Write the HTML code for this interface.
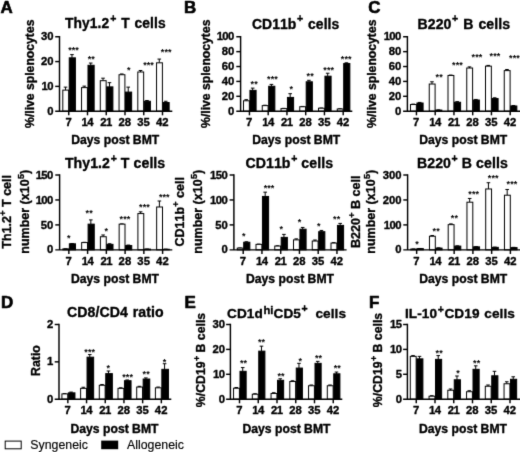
<!DOCTYPE html>
<html><head><meta charset="utf-8"><title>Figure</title>
<style>
html,body{margin:0;padding:0;background:#fff;}
body{width:520px;height:452px;overflow:hidden;}
svg{display:block;font-family:"Liberation Sans",sans-serif;font-kerning:none;}
#g{filter:url(#soft);}
text{fill:#000;}
.tk,.ti,.dl,.yl,.pl{stroke:#000;stroke-width:0.35px;stroke-linejoin:round;}
.lg{stroke:#000;stroke-width:0.15px;}
.pl{stroke-width:0.6px;}
.tk{font-size:11.3px;font-weight:bold;}
.n1{letter-spacing:-0.55px;}
.ti{font-size:13.6px;font-weight:bold;letter-spacing:0.08px;word-spacing:0.9px;}
.sup{font-size:10.5px;}
.sups{font-size:9px;}
.suph{font-size:11.2px;}
.supp{font-size:9px;}
.dl{font-size:12.2px;font-weight:bold;}
.yl{font-weight:bold;}
.st{font-size:9px;font-weight:bold;letter-spacing:0.1px;}
.pl{font-size:16px;font-weight:bold;}
.lg{font-size:12.35px;}
.axl{stroke:#000;stroke-width:1.45;fill:none;}
.eb{stroke:#000;stroke-width:1;fill:none;}
.bar{stroke:#000;stroke-width:1;}
</style></head>
<body>
<svg width="520" height="452" viewBox="0 0 520 452">
<defs><filter id="soft" x="-2%" y="-2%" width="104%" height="104%" color-interpolation-filters="sRGB"><feConvolveMatrix order="3" kernelMatrix="0.0113 0.084 0.0113 0.084 0.6188 0.084 0.0113 0.084 0.0113" divisor="1" edgeMode="duplicate" preserveAlpha="true"/></filter></defs>
<rect width="520" height="452" fill="#fff"/>
<g id="g">
<rect x="-10" y="-10" width="540" height="472" fill="#fff"/>
<path class="eb" d="M65.52 90.11V87.13M63.72 87.13H67.32"/>
<rect class="bar" x="62.8" y="90.11" width="5.85" height="21.09" fill="#fff"/>
<path class="eb" d="M71.97 57.84V54.62M70.17 54.62H73.77"/>
<rect class="bar" x="69.25" y="57.84" width="6.15" height="53.36" fill="#000"/>
<path class="eb" d="M84.27 87.62V86.14M82.47 86.14H86.07"/>
<rect class="bar" x="81.55" y="87.62" width="5.85" height="23.58" fill="#fff"/>
<path class="eb" d="M90.72 65.29V63.06M88.92 63.06H92.52"/>
<rect class="bar" x="88" y="65.29" width="6.15" height="45.91" fill="#000"/>
<path class="eb" d="M103.02 80.68V78.19M101.22 78.19H104.82"/>
<rect class="bar" x="100.3" y="80.68" width="5.85" height="30.52" fill="#fff"/>
<path class="eb" d="M109.47 86.88V82.66M107.67 82.66H111.27"/>
<rect class="bar" x="106.75" y="86.88" width="6.15" height="24.32" fill="#000"/>
<path class="eb" d="M121.77 74.72V73.98M119.97 73.98H123.57"/>
<rect class="bar" x="119.05" y="74.72" width="5.85" height="36.48" fill="#fff"/>
<path class="eb" d="M128.22 92.09V87.13M126.42 87.13H130.03"/>
<rect class="bar" x="125.5" y="92.09" width="6.15" height="19.11" fill="#000"/>
<path class="eb" d="M140.53 71.99V70.5M138.72 70.5H142.33"/>
<rect class="bar" x="137.8" y="71.99" width="5.85" height="39.21" fill="#fff"/>
<path class="eb" d="M146.97 101.27V100.53M145.17 100.53H148.78"/>
<rect class="bar" x="144.25" y="101.27" width="6.15" height="9.93" fill="#000"/>
<path class="eb" d="M159.28 62.81V59.08M157.47 59.08H161.08"/>
<rect class="bar" x="156.55" y="62.81" width="5.85" height="48.39" fill="#fff"/>
<path class="eb" d="M165.72 102.51V101.27M163.92 101.27H167.53"/>
<rect class="bar" x="163" y="102.51" width="6.15" height="8.69" fill="#000"/>
<path class="axl" d="M59.5 36.05V111.2M55.2 111.2H172.3"/>
<text class="tk" text-anchor="end" x="53.6" y="114.8">0</text>
<path class="axl" d="M55.2 86.38H59.5"/>
<text class="tk n1" text-anchor="end" x="53.05" y="89.98">10</text>
<path class="axl" d="M55.2 61.57H59.5"/>
<text class="tk" text-anchor="end" x="53.6" y="65.17">20</text>
<path class="axl" d="M55.2 36.75H59.5"/>
<text class="tk" text-anchor="end" x="53.6" y="40.35">30</text>
<path class="axl" d="M68.75 111.2V115.3"/>
<text class="tk" text-anchor="middle" x="68.55" y="126.3">7</text>
<path class="axl" d="M87.5 111.2V115.3"/>
<text class="tk n1" text-anchor="middle" x="87.3" y="126.3">14</text>
<path class="axl" d="M106.25 111.2V115.3"/>
<text class="tk n1" text-anchor="middle" x="106.05" y="126.3">21</text>
<path class="axl" d="M125 111.2V115.3"/>
<text class="tk" text-anchor="middle" x="124.8" y="126.3">28</text>
<path class="axl" d="M143.75 111.2V115.3"/>
<text class="tk" text-anchor="middle" x="143.55" y="126.3">35</text>
<path class="axl" d="M162.5 111.2V115.3"/>
<text class="tk" text-anchor="middle" x="162.3" y="126.3">42</text>
<text class="ti" style="font-size:13.8px;word-spacing:0.9px" x="65" y="28.4">Thy1.2<tspan class="sup" dx="1.0" dy="-6.3">+</tspan><tspan dy="6.3"> T cells</tspan></text>
<text class="dl" text-anchor="middle" x="115.25" y="144.1">Days post BMT</text>
<text class="yl" style="font-size:12.2px" text-anchor="middle" transform="translate(33.8 73.75) rotate(-90)">%/live splenocytes</text>
<text class="st" text-anchor="middle" x="73.55" y="53.05">***</text>
<text class="st" text-anchor="middle" x="91.25" y="61.8">**</text>
<text class="st" text-anchor="middle" x="128.85" y="73.3">*</text>
<text class="st" text-anchor="middle" x="148.55" y="68.05">***</text>
<text class="st" text-anchor="middle" x="166.25" y="55.3">***</text>
<path class="eb" d="M246.22 100.78V99.66M244.42 99.66H248.03"/>
<rect class="bar" x="243.5" y="100.78" width="5.85" height="10.42" fill="#fff"/>
<path class="eb" d="M252.67 90.35V88.12M250.87 88.12H254.47"/>
<rect class="bar" x="249.95" y="90.35" width="6.15" height="20.85" fill="#000"/>
<path class="eb" d="M264.98 105.62V105.24M263.18 105.24H266.78"/>
<rect class="bar" x="262.25" y="105.62" width="5.85" height="5.58" fill="#fff"/>
<path class="eb" d="M271.43 86.26V84.4M269.62 84.4H273.23"/>
<rect class="bar" x="268.7" y="86.26" width="6.15" height="24.94" fill="#000"/>
<path class="eb" d="M283.73 108.59V108.37M281.93 108.37H285.53"/>
<rect class="bar" x="281" y="108.59" width="5.85" height="2.61" fill="#fff"/>
<path class="eb" d="M290.18 97.43V93.7M288.38 93.7H291.98"/>
<rect class="bar" x="287.45" y="97.43" width="6.15" height="13.77" fill="#000"/>
<path class="eb" d="M302.48 106.73V106.44M300.68 106.44H304.28"/>
<rect class="bar" x="299.75" y="106.73" width="5.85" height="4.47" fill="#fff"/>
<path class="eb" d="M308.93 81.79V80.3M307.12 80.3H310.73"/>
<rect class="bar" x="306.2" y="81.79" width="6.15" height="29.41" fill="#000"/>
<path class="eb" d="M321.23 108.22V108M319.43 108H323.03"/>
<rect class="bar" x="318.5" y="108.22" width="5.85" height="2.98" fill="#fff"/>
<path class="eb" d="M327.68 76.21V73.23M325.88 73.23H329.48"/>
<rect class="bar" x="324.95" y="76.21" width="6.15" height="34.99" fill="#000"/>
<path class="eb" d="M339.98 108.97V108.74M338.18 108.74H341.78"/>
<rect class="bar" x="337.25" y="108.97" width="5.85" height="2.23" fill="#fff"/>
<path class="eb" d="M346.43 63.55V62.81M344.62 62.81H348.23"/>
<rect class="bar" x="343.7" y="63.55" width="6.15" height="47.65" fill="#000"/>
<path class="axl" d="M240.6 36.05V111.2M236.3 111.2H352.3"/>
<text class="tk" text-anchor="end" x="234.4" y="114.8">0</text>
<path class="axl" d="M236.3 96.31H240.6"/>
<text class="tk" text-anchor="end" x="234.4" y="99.91">20</text>
<path class="axl" d="M236.3 81.42H240.6"/>
<text class="tk" text-anchor="end" x="234.4" y="85.02">40</text>
<path class="axl" d="M236.3 66.53H240.6"/>
<text class="tk" text-anchor="end" x="234.4" y="70.13">60</text>
<path class="axl" d="M236.3 51.64H240.6"/>
<text class="tk" text-anchor="end" x="234.4" y="55.24">80</text>
<path class="axl" d="M236.3 36.75H240.6"/>
<text class="tk n1" text-anchor="end" x="233.85" y="40.35">100</text>
<path class="axl" d="M249.45 111.2V115.3"/>
<text class="tk" text-anchor="middle" x="249.25" y="126.3">7</text>
<path class="axl" d="M268.2 111.2V115.3"/>
<text class="tk n1" text-anchor="middle" x="268" y="126.3">14</text>
<path class="axl" d="M286.95 111.2V115.3"/>
<text class="tk n1" text-anchor="middle" x="286.75" y="126.3">21</text>
<path class="axl" d="M305.7 111.2V115.3"/>
<text class="tk" text-anchor="middle" x="305.5" y="126.3">28</text>
<path class="axl" d="M324.45 111.2V115.3"/>
<text class="tk" text-anchor="middle" x="324.25" y="126.3">35</text>
<path class="axl" d="M343.2 111.2V115.3"/>
<text class="tk" text-anchor="middle" x="343" y="126.3">42</text>
<text class="ti" style="font-size:13.9px;word-spacing:0.9px" x="252" y="28.6">CD11b<tspan class="sup" dx="0.6" dy="-6.3">+</tspan><tspan dy="6.3"> cells</tspan></text>
<text class="dl" text-anchor="middle" x="296.25" y="144.1">Days post BMT</text>
<text class="yl" style="font-size:12.2px" text-anchor="middle" transform="translate(209.6 73.75) rotate(-90)">%/live splenocytes</text>
<text class="st" text-anchor="middle" x="254.2" y="87">**</text>
<text class="st" text-anchor="middle" x="272.45" y="81.5">***</text>
<text class="st" text-anchor="middle" x="291.2" y="92">*</text>
<text class="st" text-anchor="middle" x="310.2" y="79">**</text>
<text class="st" text-anchor="middle" x="328.7" y="72.75">***</text>
<text class="st" text-anchor="middle" x="346.2" y="62.25">***</text>
<path class="eb" d="M413.23 104.5V104.13M411.43 104.13H415.03"/>
<rect class="bar" x="410.5" y="104.5" width="5.85" height="6.7" fill="#fff"/>
<path class="eb" d="M419.68 103.01V102.41M417.88 102.41H421.48"/>
<rect class="bar" x="416.95" y="103.01" width="6.15" height="8.19" fill="#000"/>
<path class="eb" d="M431.98 84.03V81.79M430.18 81.79H433.78"/>
<rect class="bar" x="429.25" y="84.03" width="5.85" height="27.17" fill="#fff"/>
<path class="eb" d="M438.43 110.08V109.86M436.62 109.86H440.23"/>
<rect class="bar" x="435.7" y="110.08" width="6.15" height="1.12" fill="#000"/>
<path class="eb" d="M450.73 75.46V75.09M448.93 75.09H452.53"/>
<rect class="bar" x="448" y="75.46" width="5.85" height="35.74" fill="#fff"/>
<path class="eb" d="M457.18 102.27V101.67M455.38 101.67H458.98"/>
<rect class="bar" x="454.45" y="102.27" width="6.15" height="8.93" fill="#000"/>
<path class="eb" d="M469.48 68.02V66.9M467.68 66.9H471.28"/>
<rect class="bar" x="466.75" y="68.02" width="5.85" height="43.18" fill="#fff"/>
<path class="eb" d="M475.93 100.03V99.44M474.12 99.44H477.73"/>
<rect class="bar" x="473.2" y="100.03" width="6.15" height="11.17" fill="#000"/>
<path class="eb" d="M488.23 66.16V65.41M486.43 65.41H490.03"/>
<rect class="bar" x="485.5" y="66.16" width="5.85" height="45.04" fill="#fff"/>
<path class="eb" d="M494.68 98.54V97.8M492.88 97.8H496.48"/>
<rect class="bar" x="491.95" y="98.54" width="6.15" height="12.66" fill="#000"/>
<path class="eb" d="M506.98 70.62V69.51M505.18 69.51H508.78"/>
<rect class="bar" x="504.25" y="70.62" width="5.85" height="40.58" fill="#fff"/>
<path class="eb" d="M513.42 105.99V105.54M511.62 105.54H515.22"/>
<rect class="bar" x="510.7" y="105.99" width="6.15" height="5.21" fill="#000"/>
<path class="axl" d="M407.4 36.05V111.2M403.1 111.2H521"/>
<text class="tk" text-anchor="end" x="401.4" y="114.8">0</text>
<path class="axl" d="M403.1 96.31H407.4"/>
<text class="tk" text-anchor="end" x="401.4" y="99.91">20</text>
<path class="axl" d="M403.1 81.42H407.4"/>
<text class="tk" text-anchor="end" x="401.4" y="85.02">40</text>
<path class="axl" d="M403.1 66.53H407.4"/>
<text class="tk" text-anchor="end" x="401.4" y="70.13">60</text>
<path class="axl" d="M403.1 51.64H407.4"/>
<text class="tk" text-anchor="end" x="401.4" y="55.24">80</text>
<path class="axl" d="M403.1 36.75H407.4"/>
<text class="tk n1" text-anchor="end" x="400.85" y="40.35">100</text>
<path class="axl" d="M416.45 111.2V115.3"/>
<text class="tk" text-anchor="middle" x="416.25" y="126.3">7</text>
<path class="axl" d="M435.2 111.2V115.3"/>
<text class="tk n1" text-anchor="middle" x="435" y="126.3">14</text>
<path class="axl" d="M453.95 111.2V115.3"/>
<text class="tk n1" text-anchor="middle" x="453.75" y="126.3">21</text>
<path class="axl" d="M472.7 111.2V115.3"/>
<text class="tk" text-anchor="middle" x="472.5" y="126.3">28</text>
<path class="axl" d="M491.45 111.2V115.3"/>
<text class="tk" text-anchor="middle" x="491.25" y="126.3">35</text>
<path class="axl" d="M510.2 111.2V115.3"/>
<text class="tk" text-anchor="middle" x="510" y="126.3">42</text>
<text class="ti" style="font-size:14.1px;word-spacing:0.9px" x="417.5" y="28.5">B220<tspan class="sup" dx="0.6" dy="-6.3">+</tspan><tspan dy="6.3"> B cells</tspan></text>
<text class="dl" text-anchor="middle" x="463.25" y="144.1">Days post BMT</text>
<text class="yl" style="font-size:12.2px" text-anchor="middle" transform="translate(376.2 73.75) rotate(-90)">%/live splenocytes</text>
<text class="st" text-anchor="middle" x="439.2" y="80.15">**</text>
<text class="st" text-anchor="middle" x="457.45" y="67.65">***</text>
<text class="st" text-anchor="middle" x="476.95" y="60.15">***</text>
<text class="st" text-anchor="middle" x="494.95" y="58.9">***</text>
<text class="st" text-anchor="middle" x="514.45" y="61.4">***</text>
<path class="eb" d="M65.62 248.85V248.7M63.83 248.7H67.42"/>
<rect class="bar" x="62.9" y="248.85" width="5.85" height="1" fill="#fff"/>
<path class="eb" d="M72.07 243.81V243.56M70.27 243.56H73.87"/>
<rect class="bar" x="69.35" y="243.81" width="6.15" height="6.04" fill="#000"/>
<path class="eb" d="M84.38 242.56V242.32M82.58 242.32H86.17"/>
<rect class="bar" x="81.65" y="242.56" width="5.85" height="7.29" fill="#fff"/>
<path class="eb" d="M90.83 224.15V219.91M89.03 219.91H92.62"/>
<rect class="bar" x="88.1" y="224.15" width="6.15" height="25.7" fill="#000"/>
<path class="eb" d="M103.12 236.73V234.98M101.33 234.98H104.92"/>
<rect class="bar" x="100.4" y="236.73" width="5.85" height="13.12" fill="#fff"/>
<path class="eb" d="M109.58 244.36V243.76M107.78 243.76H111.38"/>
<rect class="bar" x="106.85" y="244.36" width="6.15" height="5.49" fill="#000"/>
<path class="eb" d="M121.88 224.15V223.9M120.08 223.9H123.67"/>
<rect class="bar" x="119.15" y="224.15" width="5.85" height="25.7" fill="#fff"/>
<path class="eb" d="M128.33 245.56V245.06M126.53 245.06H130.13"/>
<rect class="bar" x="125.6" y="245.56" width="6.15" height="4.29" fill="#000"/>
<path class="eb" d="M140.62 213.57V211.83M138.82 211.83H142.43"/>
<rect class="bar" x="137.9" y="213.57" width="5.85" height="36.28" fill="#fff"/>
<path class="eb" d="M147.07 249.1V249M145.27 249H148.88"/>
<rect class="bar" x="144.35" y="249.1" width="6.15" height="0.75" fill="#000"/>
<path class="eb" d="M159.38 206.99V201M157.57 201H161.18"/>
<rect class="bar" x="156.65" y="206.99" width="5.85" height="42.86" fill="#fff"/>
<path class="eb" d="M165.82 249.25V249.15M164.02 249.15H167.62"/>
<rect class="bar" x="163.1" y="249.25" width="6.15" height="0.6" fill="#000"/>
<path class="axl" d="M59.6 174.3V249.85M55.3 249.85H172.3"/>
<text class="tk" text-anchor="end" x="53.4" y="253.45">0</text>
<path class="axl" d="M55.3 224.9H59.6"/>
<text class="tk" text-anchor="end" x="53.4" y="228.5">50</text>
<path class="axl" d="M55.3 199.95H59.6"/>
<text class="tk n1" text-anchor="end" x="52.85" y="203.55">100</text>
<path class="axl" d="M55.3 175H59.6"/>
<text class="tk n1" text-anchor="end" x="52.85" y="178.6">150</text>
<path class="axl" d="M68.85 249.85V253.95"/>
<text class="tk" text-anchor="middle" x="68.65" y="265.1">7</text>
<path class="axl" d="M87.6 249.85V253.95"/>
<text class="tk n1" text-anchor="middle" x="87.4" y="265.1">14</text>
<path class="axl" d="M106.35 249.85V253.95"/>
<text class="tk n1" text-anchor="middle" x="106.15" y="265.1">21</text>
<path class="axl" d="M125.1 249.85V253.95"/>
<text class="tk" text-anchor="middle" x="124.9" y="265.1">28</text>
<path class="axl" d="M143.85 249.85V253.95"/>
<text class="tk" text-anchor="middle" x="143.65" y="265.1">35</text>
<path class="axl" d="M162.6 249.85V253.95"/>
<text class="tk" text-anchor="middle" x="162.4" y="265.1">42</text>
<text class="ti" style="font-size:14.1px;word-spacing:0px" x="64.9" y="167.8">Thy1.2<tspan class="sup" dx="0.6" dy="-5.8">+</tspan><tspan dy="5.8"> T cells</tspan></text>
<text class="dl" text-anchor="middle" x="115" y="283">Days post BMT</text>
<text class="yl" style="font-size:12.5px" text-anchor="middle" transform="translate(11.2 211.8) rotate(-90)">Th1.2<tspan class="supp" dx="0.3" dy="-5.2">+</tspan><tspan dy="5.2"> T cell</tspan></text>
<text class="yl" style="font-size:12.5px" text-anchor="middle" transform="translate(28.7 211.8) rotate(-90)">number (x10<tspan class="sups" dx="0.3" dy="-5.0">5</tspan><tspan dy="5.0">)</tspan></text>
<text class="st" text-anchor="middle" x="68.7" y="240.55">*</text>
<text class="st" text-anchor="middle" x="89.2" y="215.8">**</text>
<text class="st" text-anchor="middle" x="106.2" y="233.8">*</text>
<text class="st" text-anchor="middle" x="124.95" y="221.8">***</text>
<text class="st" text-anchor="middle" x="144.45" y="210.05">***</text>
<text class="st" text-anchor="middle" x="164.3" y="199.75">***</text>
<path class="eb" d="M239.97 248.1V247.95M238.17 247.95H241.78"/>
<rect class="bar" x="237.25" y="248.1" width="5.85" height="1.75" fill="#fff"/>
<path class="eb" d="M246.42 242.27V241.77M244.62 241.77H248.22"/>
<rect class="bar" x="243.7" y="242.27" width="6.15" height="7.58" fill="#000"/>
<path class="eb" d="M258.73 244.36V244.11M256.93 244.11H260.53"/>
<rect class="bar" x="256" y="244.36" width="5.85" height="5.49" fill="#fff"/>
<path class="eb" d="M265.18 196.46V192.17M263.38 192.17H266.98"/>
<rect class="bar" x="262.45" y="196.46" width="6.15" height="53.39" fill="#000"/>
<path class="eb" d="M277.48 246.06V245.81M275.68 245.81H279.28"/>
<rect class="bar" x="274.75" y="246.06" width="5.85" height="3.79" fill="#fff"/>
<path class="eb" d="M283.93 237.38V234.38M282.12 234.38H285.73"/>
<rect class="bar" x="281.2" y="237.38" width="6.15" height="12.47" fill="#000"/>
<path class="eb" d="M296.23 239.87V238.87M294.43 238.87H298.03"/>
<rect class="bar" x="293.5" y="239.87" width="5.85" height="9.98" fill="#fff"/>
<path class="eb" d="M302.68 229.19V227.44M300.88 227.44H304.48"/>
<rect class="bar" x="299.95" y="229.19" width="6.15" height="20.66" fill="#000"/>
<path class="eb" d="M314.98 241.02V240.02M313.18 240.02H316.78"/>
<rect class="bar" x="312.25" y="241.02" width="5.85" height="8.83" fill="#fff"/>
<path class="eb" d="M321.43 231.69V230.44M319.62 230.44H323.23"/>
<rect class="bar" x="318.7" y="231.69" width="6.15" height="18.16" fill="#000"/>
<path class="eb" d="M333.73 243.06V242.66M331.93 242.66H335.53"/>
<rect class="bar" x="331" y="243.06" width="5.85" height="6.79" fill="#fff"/>
<path class="eb" d="M340.18 225.4V223.4M338.38 223.4H341.98"/>
<rect class="bar" x="337.45" y="225.4" width="6.15" height="24.45" fill="#000"/>
<path class="axl" d="M233.9 174.3V249.85M229.6 249.85H346.6"/>
<text class="tk" text-anchor="end" x="227.8" y="253.45">0</text>
<path class="axl" d="M229.6 224.9H233.9"/>
<text class="tk" text-anchor="end" x="227.8" y="228.5">50</text>
<path class="axl" d="M229.6 199.95H233.9"/>
<text class="tk n1" text-anchor="end" x="227.25" y="203.55">100</text>
<path class="axl" d="M229.6 175H233.9"/>
<text class="tk n1" text-anchor="end" x="227.25" y="178.6">150</text>
<path class="axl" d="M243.2 249.85V253.95"/>
<text class="tk" text-anchor="middle" x="243" y="265.1">7</text>
<path class="axl" d="M261.95 249.85V253.95"/>
<text class="tk n1" text-anchor="middle" x="261.75" y="265.1">14</text>
<path class="axl" d="M280.7 249.85V253.95"/>
<text class="tk n1" text-anchor="middle" x="280.5" y="265.1">21</text>
<path class="axl" d="M299.45 249.85V253.95"/>
<text class="tk" text-anchor="middle" x="299.25" y="265.1">28</text>
<path class="axl" d="M318.2 249.85V253.95"/>
<text class="tk" text-anchor="middle" x="318" y="265.1">35</text>
<path class="axl" d="M336.95 249.85V253.95"/>
<text class="tk" text-anchor="middle" x="336.75" y="265.1">42</text>
<text class="ti" style="font-size:14.1px;word-spacing:0px" x="245.5" y="167.8">CD11b<tspan class="sup" dx="0.6" dy="-5.8">+</tspan><tspan dy="5.8"> cells</tspan></text>
<text class="dl" text-anchor="middle" x="290" y="283">Days post BMT</text>
<text class="yl" style="font-size:12.5px" text-anchor="middle" transform="translate(184.3 211.8) rotate(-90)">CD11b<tspan class="supp" dx="0.3" dy="-5.2">+</tspan><tspan dy="5.2"> cell</tspan></text>
<text class="yl" style="font-size:12.5px" text-anchor="middle" transform="translate(202.4 211.8) rotate(-90)">number (x10<tspan class="sups" dx="0.3" dy="-5.0">5</tspan><tspan dy="5.0">)</tspan></text>
<text class="st" text-anchor="middle" x="243.7" y="238.7">*</text>
<text class="st" text-anchor="middle" x="269.05" y="191.45">***</text>
<text class="st" text-anchor="middle" x="281.2" y="231.7">*</text>
<text class="st" text-anchor="middle" x="299.45" y="225.45">*</text>
<text class="st" text-anchor="middle" x="318.7" y="229.2">*</text>
<text class="st" text-anchor="middle" x="336.7" y="222.2">**</text>
<path class="eb" d="M413.43 249.1V248.98M411.62 248.98H415.23"/>
<rect class="bar" x="410.7" y="249.1" width="5.85" height="0.75" fill="#fff"/>
<path class="eb" d="M419.88 248.6V248.48M418.07 248.48H421.68"/>
<rect class="bar" x="417.15" y="248.6" width="6.15" height="1.25" fill="#000"/>
<path class="eb" d="M432.18 236.25V235.5M430.38 235.5H433.98"/>
<rect class="bar" x="429.45" y="236.25" width="5.85" height="13.6" fill="#fff"/>
<path class="eb" d="M438.62 248.1V247.85M436.82 247.85H440.43"/>
<rect class="bar" x="435.9" y="248.1" width="6.15" height="1.75" fill="#000"/>
<path class="eb" d="M450.93 224.65V223.9M449.12 223.9H452.73"/>
<rect class="bar" x="448.2" y="224.65" width="5.85" height="25.2" fill="#fff"/>
<path class="eb" d="M457.38 246.11V245.86M455.57 245.86H459.18"/>
<rect class="bar" x="454.65" y="246.11" width="6.15" height="3.74" fill="#000"/>
<path class="eb" d="M469.68 202.2V198.45M467.88 198.45H471.48"/>
<rect class="bar" x="466.95" y="202.2" width="5.85" height="47.65" fill="#fff"/>
<path class="eb" d="M476.12 246.86V246.61M474.32 246.61H477.93"/>
<rect class="bar" x="473.4" y="246.86" width="6.15" height="2.99" fill="#000"/>
<path class="eb" d="M488.43 188.97V182.73M486.62 182.73H490.23"/>
<rect class="bar" x="485.7" y="188.97" width="5.85" height="60.88" fill="#fff"/>
<path class="eb" d="M494.88 247.35V247.11M493.07 247.11H496.68"/>
<rect class="bar" x="492.15" y="247.35" width="6.15" height="2.49" fill="#000"/>
<path class="eb" d="M507.18 195.21V189.47M505.38 189.47H508.98"/>
<rect class="bar" x="504.45" y="195.21" width="5.85" height="54.64" fill="#fff"/>
<path class="eb" d="M513.62 247.6V247.35M511.82 247.35H515.42"/>
<rect class="bar" x="510.9" y="247.6" width="6.15" height="2.25" fill="#000"/>
<path class="axl" d="M407.6 174.3V249.85M403.3 249.85H521"/>
<text class="tk" text-anchor="end" x="401.5" y="253.45">0</text>
<path class="axl" d="M403.3 224.9H407.6"/>
<text class="tk n1" text-anchor="end" x="400.95" y="228.5">100</text>
<path class="axl" d="M403.3 199.95H407.6"/>
<text class="tk" text-anchor="end" x="401.5" y="203.55">200</text>
<path class="axl" d="M403.3 175H407.6"/>
<text class="tk" text-anchor="end" x="401.5" y="178.6">300</text>
<path class="axl" d="M416.65 249.85V253.95"/>
<text class="tk" text-anchor="middle" x="416.45" y="265.1">7</text>
<path class="axl" d="M435.4 249.85V253.95"/>
<text class="tk n1" text-anchor="middle" x="435.2" y="265.1">14</text>
<path class="axl" d="M454.15 249.85V253.95"/>
<text class="tk n1" text-anchor="middle" x="453.95" y="265.1">21</text>
<path class="axl" d="M472.9 249.85V253.95"/>
<text class="tk" text-anchor="middle" x="472.7" y="265.1">28</text>
<path class="axl" d="M491.65 249.85V253.95"/>
<text class="tk" text-anchor="middle" x="491.45" y="265.1">35</text>
<path class="axl" d="M510.4 249.85V253.95"/>
<text class="tk" text-anchor="middle" x="510.2" y="265.1">42</text>
<text class="ti" style="font-size:14.1px;word-spacing:0px" x="417" y="167.8">B220<tspan class="sup" dx="0.6" dy="-5.8">+</tspan><tspan dy="5.8"> B cells</tspan></text>
<text class="dl" text-anchor="middle" x="463.25" y="283">Days post BMT</text>
<text class="yl" style="font-size:12.5px" text-anchor="middle" transform="translate(359.8 211.8) rotate(-90)">B220<tspan class="supp" dx="0.3" dy="-5.2">+</tspan><tspan dy="5.2"> B cell</tspan></text>
<text class="yl" style="font-size:12.5px" text-anchor="middle" transform="translate(375.4 211.8) rotate(-90)">number (x10<tspan class="sups" dx="0.3" dy="-5.0">5</tspan><tspan dy="5.0">)</tspan></text>
<text class="st" text-anchor="middle" x="416.95" y="246.5">*</text>
<text class="st" text-anchor="middle" x="436.2" y="234">**</text>
<text class="st" text-anchor="middle" x="454.45" y="221">**</text>
<text class="st" text-anchor="middle" x="473.7" y="196.5">***</text>
<text class="st" text-anchor="middle" x="493.2" y="180.75">***</text>
<text class="st" text-anchor="middle" x="511.95" y="187">***</text>
<path class="eb" d="M64.62 393.9V393.52M62.83 393.52H66.42"/>
<rect class="bar" x="61.9" y="393.9" width="5.85" height="5.3" fill="#fff"/>
<path class="eb" d="M71.07 392.85V392.1M69.27 392.1H72.87"/>
<rect class="bar" x="68.35" y="392.85" width="6.6" height="6.35" fill="#000"/>
<path class="eb" d="M83.32 388.37V387.25M81.52 387.25H85.12"/>
<rect class="bar" x="80.6" y="388.37" width="5.85" height="10.83" fill="#fff"/>
<path class="eb" d="M89.77 357.18V354.57M87.97 354.57H91.57"/>
<rect class="bar" x="87.05" y="357.18" width="6.6" height="42.02" fill="#000"/>
<path class="eb" d="M102.02 385.27V384.52M100.22 384.52H103.82"/>
<rect class="bar" x="99.3" y="385.27" width="5.85" height="13.93" fill="#fff"/>
<path class="eb" d="M108.47 373.62V371M106.67 371H110.27"/>
<rect class="bar" x="105.75" y="373.62" width="6.6" height="25.58" fill="#000"/>
<path class="eb" d="M120.72 388.37V387.81M118.92 387.81H122.52"/>
<rect class="bar" x="118" y="388.37" width="5.85" height="10.83" fill="#fff"/>
<path class="eb" d="M127.17 380.71V379.96M125.38 379.96H128.97"/>
<rect class="bar" x="124.45" y="380.71" width="6.6" height="18.49" fill="#000"/>
<path class="eb" d="M139.42 387.06V386.31M137.62 386.31H141.22"/>
<rect class="bar" x="136.7" y="387.06" width="5.85" height="12.14" fill="#fff"/>
<path class="eb" d="M145.87 379.03V377.91M144.07 377.91H147.67"/>
<rect class="bar" x="143.15" y="379.03" width="6.6" height="20.17" fill="#000"/>
<path class="eb" d="M158.12 387.81V387.06M156.32 387.06H159.93"/>
<rect class="bar" x="155.4" y="387.81" width="5.85" height="11.39" fill="#fff"/>
<path class="eb" d="M164.57 369.32V363.72M162.77 363.72H166.38"/>
<rect class="bar" x="161.85" y="369.32" width="6.6" height="29.88" fill="#000"/>
<path class="axl" d="M59 323.8V399.2M54.7 399.2H171.3"/>
<text class="tk" text-anchor="end" x="53.3" y="402.8">0</text>
<path class="axl" d="M54.7 361.85H59"/>
<text class="tk n1" text-anchor="end" x="52.75" y="365.45">1</text>
<path class="axl" d="M54.7 324.5H59"/>
<text class="tk" text-anchor="end" x="53.3" y="328.1">2</text>
<path class="axl" d="M67.85 399.2V403.3"/>
<text class="tk" text-anchor="middle" x="67.65" y="414.3">7</text>
<path class="axl" d="M86.55 399.2V403.3"/>
<text class="tk n1" text-anchor="middle" x="86.35" y="414.3">14</text>
<path class="axl" d="M105.25 399.2V403.3"/>
<text class="tk n1" text-anchor="middle" x="105.05" y="414.3">21</text>
<path class="axl" d="M123.95 399.2V403.3"/>
<text class="tk" text-anchor="middle" x="123.75" y="414.3">28</text>
<path class="axl" d="M142.65 399.2V403.3"/>
<text class="tk" text-anchor="middle" x="142.45" y="414.3">35</text>
<path class="axl" d="M161.35 399.2V403.3"/>
<text class="tk" text-anchor="middle" x="161.15" y="414.3">42</text>
<text class="ti" style="font-size:14.1px;word-spacing:0.9px" x="67" y="317.4">CD8/CD4 ratio</text>
<text class="dl" text-anchor="middle" x="114.5" y="432.7">Days post BMT</text>
<text class="yl" style="font-size:12.3px" text-anchor="middle" transform="translate(39.6 360.5) rotate(-90)">Ratio</text>
<text class="st" text-anchor="middle" x="89.7" y="354.7">***</text>
<text class="st" text-anchor="middle" x="108.2" y="371.45">*</text>
<text class="st" text-anchor="middle" x="127.65" y="379.7">***</text>
<text class="st" text-anchor="middle" x="146.2" y="376.7">**</text>
<text class="st" text-anchor="middle" x="164.45" y="364.7">*</text>
<path class="eb" d="M236.28 388.24V387.5M234.47 387.5H238.08"/>
<rect class="bar" x="233.55" y="388.24" width="5.85" height="10.96" fill="#fff"/>
<path class="eb" d="M242.72 371.31V367.58M240.92 367.58H244.53"/>
<rect class="bar" x="240" y="371.31" width="6.15" height="27.89" fill="#000"/>
<path class="eb" d="M255.03 394.22V393.72M253.22 393.72H256.82"/>
<rect class="bar" x="252.3" y="394.22" width="5.85" height="4.98" fill="#fff"/>
<path class="eb" d="M261.48 351.14V346.16M259.68 346.16H263.28"/>
<rect class="bar" x="258.75" y="351.14" width="6.15" height="48.06" fill="#000"/>
<path class="eb" d="M273.78 393.47V392.73M271.98 392.73H275.58"/>
<rect class="bar" x="271.05" y="393.47" width="5.85" height="5.73" fill="#fff"/>
<path class="eb" d="M280.23 380.28V378.78M278.43 378.78H282.03"/>
<rect class="bar" x="277.5" y="380.28" width="6.15" height="18.92" fill="#000"/>
<path class="eb" d="M292.53 381.52V380.77M290.73 380.77H294.33"/>
<rect class="bar" x="289.8" y="381.52" width="5.85" height="17.68" fill="#fff"/>
<path class="eb" d="M298.98 368.07V363.34M297.18 363.34H300.78"/>
<rect class="bar" x="296.25" y="368.07" width="6.15" height="31.12" fill="#000"/>
<path class="eb" d="M311.28 385.75V385.01M309.48 385.01H313.08"/>
<rect class="bar" x="308.55" y="385.75" width="5.85" height="13.45" fill="#fff"/>
<path class="eb" d="M317.73 363.34V361.35M315.93 361.35H319.53"/>
<rect class="bar" x="315" y="363.34" width="6.15" height="35.86" fill="#000"/>
<path class="eb" d="M330.03 385.75V385.01M328.23 385.01H331.83"/>
<rect class="bar" x="327.3" y="385.75" width="5.85" height="13.45" fill="#fff"/>
<path class="eb" d="M336.48 373.8V372.06M334.68 372.06H338.28"/>
<rect class="bar" x="333.75" y="373.8" width="6.15" height="25.4" fill="#000"/>
<path class="axl" d="M230.4 323.8V399.2M226.1 399.2H342.3"/>
<text class="tk" text-anchor="end" x="225" y="402.8">0</text>
<path class="axl" d="M226.1 374.3H230.4"/>
<text class="tk n1" text-anchor="end" x="224.45" y="377.9">10</text>
<path class="axl" d="M226.1 349.4H230.4"/>
<text class="tk" text-anchor="end" x="225" y="353">20</text>
<path class="axl" d="M226.1 324.5H230.4"/>
<text class="tk" text-anchor="end" x="225" y="328.1">30</text>
<path class="axl" d="M239.5 399.2V403.3"/>
<text class="tk" text-anchor="middle" x="239.3" y="414.3">7</text>
<path class="axl" d="M258.25 399.2V403.3"/>
<text class="tk n1" text-anchor="middle" x="258.05" y="414.3">14</text>
<path class="axl" d="M277 399.2V403.3"/>
<text class="tk n1" text-anchor="middle" x="276.8" y="414.3">21</text>
<path class="axl" d="M295.75 399.2V403.3"/>
<text class="tk" text-anchor="middle" x="295.55" y="414.3">28</text>
<path class="axl" d="M314.5 399.2V403.3"/>
<text class="tk" text-anchor="middle" x="314.3" y="414.3">35</text>
<path class="axl" d="M333.25 399.2V403.3"/>
<text class="tk" text-anchor="middle" x="333.05" y="414.3">42</text>
<text class="ti" style="font-size:13.6px;word-spacing:0.9px" x="227" y="318.1">CD1d<tspan class="suph" dx="0.6" dy="-3.9">hi</tspan><tspan dy="3.9">CD5</tspan><tspan class="sup" dx="0.5" dy="-6.4">+</tspan><tspan dy="6.4"><tspan dx="3.0"> cells</tspan></tspan></text>
<text class="dl" text-anchor="middle" x="286.5" y="432.7">Days post BMT</text>
<text class="yl" style="font-size:12.3px" text-anchor="middle" transform="translate(204.8 360) rotate(-90)">%/CD19<tspan class="supp" dx="0.3" dy="-5.2">+</tspan><tspan dy="5.2"> B cells</tspan></text>
<text class="st" text-anchor="middle" x="243.6" y="366.4">**</text>
<text class="st" text-anchor="middle" x="261.6" y="345.15">**</text>
<text class="st" text-anchor="middle" x="281.1" y="378.9">**</text>
<text class="st" text-anchor="middle" x="300.35" y="364.4">*</text>
<text class="st" text-anchor="middle" x="318.6" y="361.15">**</text>
<text class="st" text-anchor="middle" x="337.35" y="371.4">**</text>
<path class="eb" d="M413.03 356.37V355.62M411.23 355.62H414.83"/>
<rect class="bar" x="410.3" y="356.37" width="5.85" height="42.83" fill="#fff"/>
<path class="eb" d="M419.48 358.86V356.37M417.68 356.37H421.28"/>
<rect class="bar" x="416.75" y="358.86" width="6.15" height="40.34" fill="#000"/>
<path class="eb" d="M431.78 396.21V395.71M429.98 395.71H433.58"/>
<rect class="bar" x="429.05" y="396.21" width="5.85" height="2.99" fill="#fff"/>
<path class="eb" d="M438.23 359.36V355.58M436.43 355.58H440.03"/>
<rect class="bar" x="435.5" y="359.36" width="6.15" height="39.84" fill="#000"/>
<path class="eb" d="M450.53 390.24V388.99M448.73 388.99H452.33"/>
<rect class="bar" x="447.8" y="390.24" width="5.85" height="8.96" fill="#fff"/>
<path class="eb" d="M456.98 379.78V375.99M455.18 375.99H458.78"/>
<rect class="bar" x="454.25" y="379.78" width="6.15" height="19.42" fill="#000"/>
<path class="eb" d="M469.28 391.73V390.73M467.48 390.73H471.08"/>
<rect class="bar" x="466.55" y="391.73" width="5.85" height="7.47" fill="#fff"/>
<path class="eb" d="M475.73 369.32V365.83M473.93 365.83H477.53"/>
<rect class="bar" x="473" y="369.32" width="6.15" height="29.88" fill="#000"/>
<path class="eb" d="M488.03 386.25V385.01M486.23 385.01H489.83"/>
<rect class="bar" x="485.3" y="386.25" width="5.85" height="12.95" fill="#fff"/>
<path class="eb" d="M494.48 375.79V371.31M492.68 371.31H496.28"/>
<rect class="bar" x="491.75" y="375.79" width="6.15" height="23.41" fill="#000"/>
<path class="eb" d="M506.78 383.76V381.77M504.98 381.77H508.58"/>
<rect class="bar" x="504.05" y="383.76" width="5.85" height="15.44" fill="#fff"/>
<path class="eb" d="M513.23 379.28V376.79M511.43 376.79H515.02"/>
<rect class="bar" x="510.5" y="379.28" width="6.15" height="19.92" fill="#000"/>
<path class="axl" d="M407.4 323.8V399.2M403.1 399.2H521"/>
<text class="tk" text-anchor="end" x="402" y="402.8">0</text>
<path class="axl" d="M403.1 374.3H407.4"/>
<text class="tk" text-anchor="end" x="402" y="377.9">5</text>
<path class="axl" d="M403.1 349.4H407.4"/>
<text class="tk n1" text-anchor="end" x="401.45" y="353">10</text>
<path class="axl" d="M403.1 324.5H407.4"/>
<text class="tk n1" text-anchor="end" x="401.45" y="328.1">15</text>
<path class="axl" d="M416.25 399.2V403.3"/>
<text class="tk" text-anchor="middle" x="416.05" y="414.3">7</text>
<path class="axl" d="M435 399.2V403.3"/>
<text class="tk n1" text-anchor="middle" x="434.8" y="414.3">14</text>
<path class="axl" d="M453.75 399.2V403.3"/>
<text class="tk n1" text-anchor="middle" x="453.55" y="414.3">21</text>
<path class="axl" d="M472.5 399.2V403.3"/>
<text class="tk" text-anchor="middle" x="472.3" y="414.3">28</text>
<path class="axl" d="M491.25 399.2V403.3"/>
<text class="tk" text-anchor="middle" x="491.05" y="414.3">35</text>
<path class="axl" d="M510 399.2V403.3"/>
<text class="tk" text-anchor="middle" x="509.8" y="414.3">42</text>
<text class="ti" style="font-size:13.6px;word-spacing:0.9px" x="405" y="318.2">IL-10<tspan class="sup" dx="0.6" dy="-5.5">+</tspan><tspan dy="5.5"><tspan dx="0.5">CD19 cells</tspan></tspan></text>
<text class="dl" text-anchor="middle" x="463" y="432.7">Days post BMT</text>
<text class="yl" style="font-size:12.3px" text-anchor="middle" transform="translate(381.9 360) rotate(-90)">%/CD19<tspan class="supp" dx="0.3" dy="-5.2">+</tspan><tspan dy="5.2"> B cells</tspan></text>
<text class="st" text-anchor="middle" x="439.2" y="355.55">**</text>
<text class="st" text-anchor="middle" x="457.95" y="376.05">*</text>
<text class="st" text-anchor="middle" x="476.7" y="365.55">**</text>
<text class="pl" transform="translate(0.6 12.5) scale(1.06 1)">A</text>
<text class="pl" transform="translate(184.1 12.5) scale(1.06 1)">B</text>
<text class="pl" transform="translate(368.3 12.5) scale(1.06 1)">C</text>
<text class="pl" transform="translate(1 307.7) scale(1.06 1)">D</text>
<text class="pl" transform="translate(184.6 307.7) scale(1.06 1)">E</text>
<text class="pl" transform="translate(369.1 307.7) scale(1.06 1)">F</text>
<rect x="5.2" y="441.1" width="16" height="7.7" fill="#fff" stroke="#000" stroke-width="1"/>
<text class="lg" x="30.3" y="448.8">Syngeneic</text>
<rect x="101.2" y="440.6" width="17" height="8.6" fill="#000"/>
<text class="lg" x="127" y="448.8">Allogeneic</text>
</g>
</svg>
</body></html>
